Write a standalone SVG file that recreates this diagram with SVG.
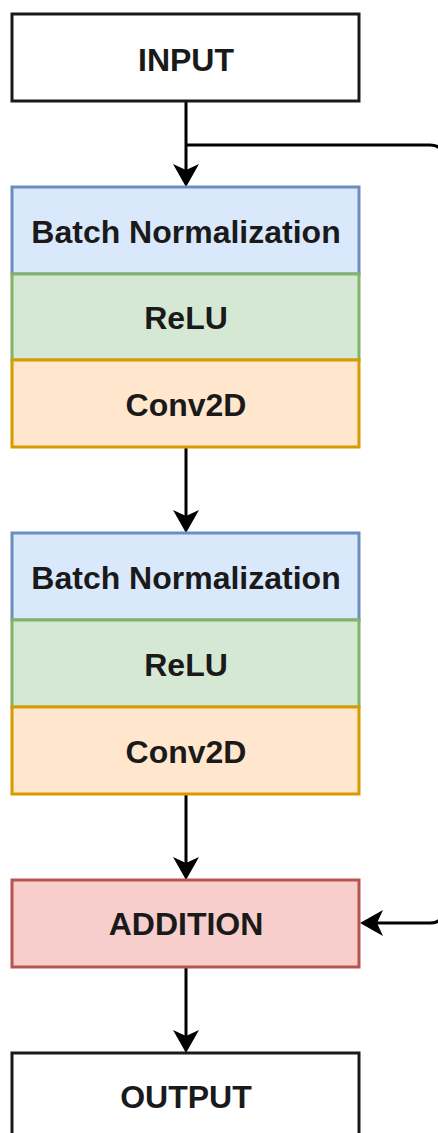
<svg xmlns="http://www.w3.org/2000/svg" width="438" height="1133" viewBox="0 0 438 1133">
<style>
text{font-family:"Liberation Sans",Arial,sans-serif;font-weight:bold;font-size:32px;fill:#1a1a1a;text-anchor:middle}
.w{fill:#ffffff;stroke:#1a1a1a;stroke-width:3}
.b{fill:#dae8fc;stroke:#6c8ebf;stroke-width:3}
.g{fill:#d5e8d4;stroke:#82b366;stroke-width:3}
.o{fill:#ffe6cc;stroke:#d79b00;stroke-width:3}
.r{fill:#f8cecc;stroke:#b85450;stroke-width:3}
.c{fill:none;stroke:#000;stroke-width:3;marker-end:url(#ah)}
</style>
<defs>
<marker id="ah" markerUnits="userSpaceOnUse" markerWidth="24" markerHeight="26" viewBox="0 0 23 26" refX="17" refY="13" orient="auto">
<path d="M0,0 L23,13 L0,26 L6,13 Z" fill="#000"/>
</marker>
</defs>
<rect width="438" height="1133" fill="#fff"/>
<g id="connectors">
<path class="c" d="M186,101 L186,181"/>
<path class="c" d="M186,447 L186,527"/>
<path class="c" d="M186,794 L186,874"/>
<path class="c" d="M186,967 L186,1047"/>
<path class="c" d="M186,145 L430,145 Q443,145 443,158 L443,910 Q443,923 430,923 L366,923"/>
</g>
<g id="input"><rect class="w" x="12" y="14" width="347" height="87"/><text x="186" y="71">INPUT</text></g>
<g id="bn1"><rect class="b" x="12" y="187" width="347" height="87"/><text x="186" y="243">Batch Normalization</text></g>
<g id="relu1"><rect class="g" x="12" y="274" width="347" height="86"/><text x="186" y="329">ReLU</text></g>
<g id="conv1"><rect class="o" x="12" y="360" width="347" height="87"/><text x="186" y="416">Conv2D</text></g>
<g id="bn2"><rect class="b" x="12" y="533" width="347" height="87"/><text x="186" y="589">Batch Normalization</text></g>
<g id="relu2"><rect class="g" x="12" y="620" width="347" height="87"/><text x="186" y="676">ReLU</text></g>
<g id="conv2"><rect class="o" x="12" y="707" width="347" height="87"/><text x="186" y="763">Conv2D</text></g>
<g id="addition"><rect class="r" x="12" y="880" width="347" height="87"/><text x="186" y="935">ADDITION</text></g>
<g id="output"><rect class="w" x="12" y="1053" width="347" height="87"/><text x="186" y="1108">OUTPUT</text></g>
</svg>
